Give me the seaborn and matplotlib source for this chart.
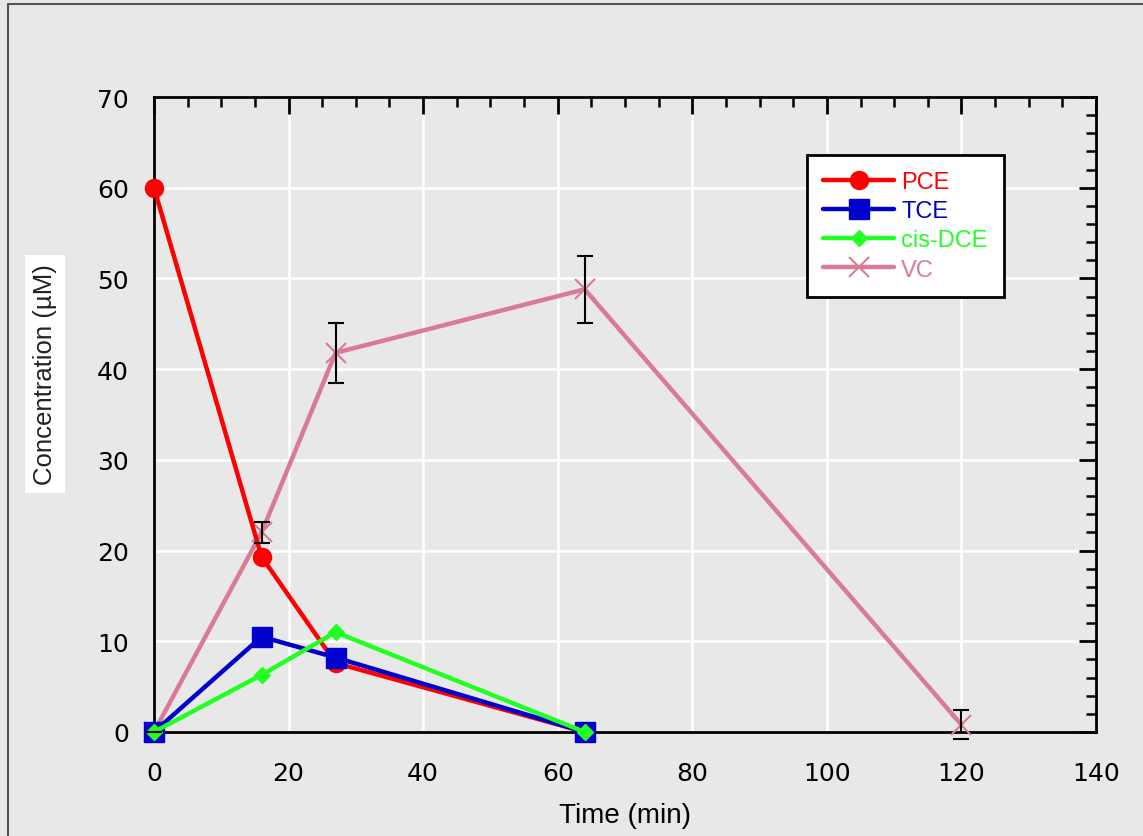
import pandas as pd
import seaborn as sns
import matplotlib.pyplot as plt
from matplotlib.ticker import MultipleLocator
from matplotlib.lines import Line2D

# Values
time_pce = [0, 16, 27, 64]
pce = [60.0, 19.3, 7.6, 0.0]

time_tce = [0, 16, 27, 64]
tce = [0.0, 10.5, 8.2, 0.0]

time_dce = [0, 16, 27, 64]
cis_dce = [0.0, 6.3, 11.0, 0.0]

time_vc = [0, 16, 27, 64, 120]
vc = [0.0, 22.0, 41.8, 48.8, 0.8]
vc_err = [0.0, 1.2, 3.3, 3.7, 1.6]

series = [
    # name, x, y, colour, marker, markersize, zorder
    ("PCE", time_pce, pce, "#ff0000", "o", 13, 4),
    ("TCE", time_tce, tce, "#0000cc", "s", 14, 5),
    ("cis-DCE", time_dce, cis_dce, "#22ff22", "D", 8.5, 6),
    ("VC", time_vc, vc, "#d97b95", "x", 14, 3),
]

sns.set_theme(style="darkgrid", rc={
    "axes.facecolor": "#e8e8e8",
    "figure.facecolor": "#e8e8e8",
    "grid.color": "white",
    "grid.linewidth": 1.8,
})
plt.rcParams["font.family"] = ["Liberation Sans", "DejaVu Sans"]

fig = plt.figure(figsize=(11.43, 8.37), dpi=100)
ax = fig.add_axes([0.1347, 0.1243, 0.8242, 0.7586])

for name, xs, ys, col, mk, ms, z in series:
    df = pd.DataFrame({"Time": xs, "Conc": ys})
    sns.lineplot(data=df, x="Time", y="Conc", ax=ax, color=col, marker=mk,
                 markersize=ms, linewidth=3.2, markeredgecolor=col,
                 markeredgewidth=1.5 if mk == "x" else 1, zorder=z)

# error bars on VC
ax.errorbar(time_vc, vc, yerr=vc_err, fmt="none", ecolor="black",
            elinewidth=1.5, capsize=6, capthick=1.5, zorder=7)

ax.set_xlim(0, 140)
ax.set_ylim(0, 70)
ax.xaxis.set_major_locator(MultipleLocator(20))
ax.xaxis.set_minor_locator(MultipleLocator(5))
ax.yaxis.set_major_locator(MultipleLocator(10))
ax.yaxis.set_minor_locator(MultipleLocator(2))
ax.grid(True, which="major", color="white", linewidth=1.8)
ax.grid(False, which="minor")

for side in ["left", "bottom", "top", "right"]:
    ax.spines[side].set_visible(True)
    ax.spines[side].set_color("black")
    ax.spines[side].set_linewidth(2)

ax.tick_params(which="major", direction="in", length=12, width=2,
               top=True, right=True, colors="black", labelsize=18)
ax.tick_params(axis="y", which="major", pad=18)
ax.tick_params(axis="x", which="major", pad=21)
ax.tick_params(which="minor", direction="in", length=7, width=1.8,
               top=True, right=True, colors="black")
# wider face for tick numbers, as in the reference
for lab in ax.get_xticklabels() + ax.get_yticklabels():
    lab.set_fontfamily("DejaVu Sans")
for ln in ax.lines:
    ln.set_clip_on(False)

ax.set_xlabel("Time (min)", fontsize=20, labelpad=12, color="black")
ax.set_ylabel("Concentration (µM)", fontsize=18.5, color="#222222",
              bbox=dict(facecolor="white", edgecolor="none", pad=6))
# label sits a bit above the middle of the axis in the reference
ax.yaxis.set_label_coords(-0.103, 0.564)

handles = [Line2D([], [], color=col, marker=mk, markersize=ms, linewidth=3.2,
                  markeredgecolor=col, markeredgewidth=1.5 if mk == "x" else 1)
           for name, xs, ys, col, mk, ms, z in series]
leg = ax.legend(handles, [s[0] for s in series], loc="upper left",
                bbox_to_anchor=(0.693, 0.909), fontsize=17, frameon=True,
                fancybox=False, edgecolor="black", facecolor="white",
                framealpha=1, handlelength=3.0, borderpad=0.7, labelspacing=0.3,
                handletextpad=0.3, borderaxespad=0)
leg.get_frame().set_linewidth(2)
for txt, s in zip(leg.get_texts(), series):
    txt.set_color(s[3])

# outer frame lines at left and top of the image
fig.add_artist(Line2D([8 / 1143, 8 / 1143], [0, 1 - 5 / 837], color="#555555", linewidth=1.5))
fig.add_artist(Line2D([8 / 1143, 1], [1 - 5 / 837, 1 - 5 / 837], color="#555555", linewidth=1.5))

fig.savefig("out.png", dpi=100)
